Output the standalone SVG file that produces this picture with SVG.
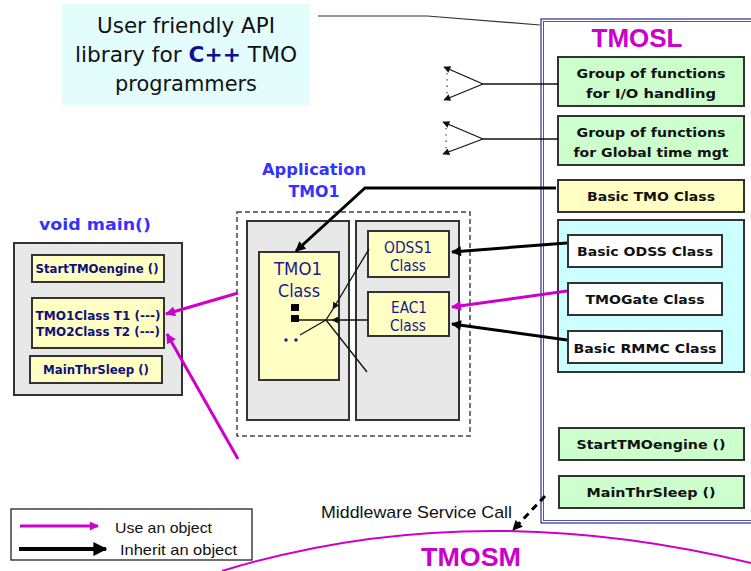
<svg xmlns="http://www.w3.org/2000/svg" width="751" height="571" viewBox="0 0 751 571">
<style>
.box{stroke:#333;stroke-width:2}
.yel{fill:#ffffc4}
.grn{fill:#ccffcc}
.gray{fill:#e8e8e8}
.wht{fill:#fff}
.cy{fill:#ccffff}
.bk{font-family:"DejaVu Sans","Liberation Sans",sans-serif;font-weight:bold;font-size:13px;fill:#111;text-anchor:middle}
.nv{font-family:"DejaVu Sans","Liberation Sans",sans-serif;font-weight:bold;font-size:11.5px;fill:#10107a;text-anchor:middle}
.nvr{font-family:"DejaVu Sans","Liberation Sans",sans-serif;font-size:17px;fill:#1a1a8c;text-anchor:middle}
.nvs{font-family:"DejaVu Sans","Liberation Sans",sans-serif;font-size:15px;fill:#1a1a8c;text-anchor:middle}
.ttl{font-family:"DejaVu Sans","Liberation Sans",sans-serif;font-weight:bold;font-size:16px;fill:#3333ff;text-anchor:middle}
.mg{font-family:"Liberation Sans","DejaVu Sans",sans-serif;font-weight:bold;font-size:26px;fill:#cc00cc;text-anchor:middle}
.nar{font-family:"Liberation Sans","DejaVu Sans",sans-serif;font-size:17px;fill:#111}
.leg{font-family:"Liberation Sans","DejaVu Sans",sans-serif;font-size:15px;fill:#111}
.thin{stroke:#111;stroke-width:1.3;fill:none}
.thick{stroke:#000;stroke-width:3;fill:none}
.use{stroke:#cc00cc;stroke-width:3;fill:none}
</style>
<defs>
<marker id="ahk" viewBox="0 0 10 10" refX="9" refY="5" markerWidth="12" markerHeight="10" markerUnits="userSpaceOnUse" orient="auto"><path d="M0,0 L10,5 L0,10 z" fill="#000"/></marker>
<marker id="ahm" viewBox="0 0 10 10" refX="9" refY="5" markerWidth="12" markerHeight="10" markerUnits="userSpaceOnUse" orient="auto"><path d="M0,0 L10,5 L0,10 z" fill="#cc00cc"/></marker>
<marker id="ahs" viewBox="0 0 10 10" refX="9" refY="5" markerWidth="8" markerHeight="7" markerUnits="userSpaceOnUse" orient="auto"><path d="M0,0 L10,5 L0,10 z" fill="#111"/></marker>
<marker id="ahL" viewBox="0 0 10 10" refX="9" refY="5" markerWidth="16" markerHeight="14" markerUnits="userSpaceOnUse" orient="auto"><path d="M0,0 L10,5 L0,10 z" fill="#000"/></marker>
<marker id="ahLm" viewBox="0 0 10 10" refX="9" refY="5" markerWidth="10" markerHeight="9" markerUnits="userSpaceOnUse" orient="auto"><path d="M0,0 L10,5 L0,10 z" fill="#cc00cc"/></marker>
</defs>
<rect width="751" height="571" fill="#fff"/>

<g id="api-note">
<rect x="62" y="4" width="248" height="101" fill="#e3fdfd"/>
<text x="186" y="33" font-family="DejaVu Sans,Liberation Sans,sans-serif" font-size="21" fill="#111" text-anchor="middle" textLength="178" lengthAdjust="spacingAndGlyphs">User friendly API</text>
<text x="186" y="62" font-family="DejaVu Sans,Liberation Sans,sans-serif" font-size="21" fill="#111" text-anchor="middle" textLength="222" lengthAdjust="spacingAndGlyphs">library for <tspan font-weight="bold" fill="#101090">C++</tspan> TMO</text>
<text x="186" y="91" font-family="DejaVu Sans,Liberation Sans,sans-serif" font-size="21" fill="#111" text-anchor="middle" textLength="142" lengthAdjust="spacingAndGlyphs">programmers</text>
</g>

<g id="tmosl">
<rect x="541" y="19" width="220" height="504" fill="none" stroke="#2a2a99" stroke-width="1.2"/>
<rect x="543.5" y="21.5" width="220" height="499" fill="none" stroke="#5050c0" stroke-width="1"/>
<text class="mg" x="637" y="47">TMOSL</text>
</g>

<g id="io-group">
<rect class="box grn" x="558" y="57" width="186" height="49"/>
<text class="bk" x="651" y="78" textLength="149" lengthAdjust="spacingAndGlyphs">Group of functions</text>
<text class="bk" x="651" y="98" textLength="130" lengthAdjust="spacingAndGlyphs">for I/O handling</text>
</g>
<g id="time-group">
<rect class="box grn" x="558" y="116" width="186" height="49"/>
<text class="bk" x="651" y="137" textLength="149" lengthAdjust="spacingAndGlyphs">Group of functions</text>
<text class="bk" x="651" y="157" textLength="155" lengthAdjust="spacingAndGlyphs">for Global time mgt</text>
</g>
<g id="basic-tmo">
<rect class="box yel" x="558" y="180" width="186" height="32"/>
<text class="bk" x="651" y="201" textLength="128" lengthAdjust="spacingAndGlyphs">Basic TMO Class</text>
</g>
<g id="cyan-group">
<rect class="box cy" x="558" y="220" width="186" height="152"/>
</g>
<g id="basic-odss">
<rect class="box wht" x="568" y="235" width="154" height="32"/>
<text class="bk" x="645" y="256" textLength="136" lengthAdjust="spacingAndGlyphs">Basic ODSS Class</text>
</g>
<g id="tmogate">
<rect class="box wht" x="568" y="283" width="154" height="32"/>
<text class="bk" x="645" y="304" textLength="119" lengthAdjust="spacingAndGlyphs">TMOGate Class</text>
</g>
<g id="basic-rmmc">
<rect class="box wht" x="568" y="331" width="154" height="32"/>
<text class="bk" x="645" y="353" textLength="143" lengthAdjust="spacingAndGlyphs">Basic RMMC Class</text>
</g>
<g id="sl-start">
<rect class="box grn" x="559" y="428" width="185" height="32"/>
<text class="bk" x="651" y="449" textLength="149" lengthAdjust="spacingAndGlyphs">StartTMOengine ()</text>
</g>
<g id="sl-sleep">
<rect class="box grn" x="559" y="476" width="185" height="32"/>
<text class="bk" x="651" y="497" textLength="129" lengthAdjust="spacingAndGlyphs">MainThrSleep ()</text>
</g>

<g id="application">
<text class="ttl" x="314" y="175" textLength="104" lengthAdjust="spacingAndGlyphs">Application</text>
<text class="ttl" x="314" y="197" textLength="51" lengthAdjust="spacingAndGlyphs">TMO1</text>
<rect x="237" y="212" width="233" height="224" fill="none" stroke="#444" stroke-width="1.5" stroke-dasharray="5,3"/>
<rect class="box gray" x="247" y="221" width="102" height="199"/>
<rect class="box gray" x="356" y="221" width="103" height="199"/>
</g>
<g id="tmo1-class">
<rect class="box yel" x="259" y="252" width="80" height="128"/>
<text class="nvr" x="298" y="275" textLength="48" lengthAdjust="spacingAndGlyphs">TMO1</text>
<text class="nvr" x="299" y="297" textLength="42" lengthAdjust="spacingAndGlyphs">Class</text>
<rect x="291" y="304" width="8" height="7" fill="#000"/>
<rect x="291" y="315" width="8" height="7" fill="#000"/>
<circle cx="286" cy="340" r="1.7" fill="#1a1a8c"/>
<circle cx="296" cy="340" r="1.7" fill="#1a1a8c"/>
</g>
<g id="odss1-class">
<rect class="box yel" x="368" y="231" width="81" height="46"/>
<text class="nvs" x="408" y="253" textLength="48" lengthAdjust="spacingAndGlyphs">ODSS1</text>
<text class="nvs" x="408" y="271" textLength="36" lengthAdjust="spacingAndGlyphs">Class</text>
</g>
<g id="eac1-class">
<rect class="box yel" x="368" y="292" width="81" height="44"/>
<text class="nvs" x="409" y="313" textLength="36" lengthAdjust="spacingAndGlyphs">EAC1</text>
<text class="nvs" x="408" y="331" textLength="36" lengthAdjust="spacingAndGlyphs">Class</text>
</g>

<g id="main">
<text class="ttl" x="95" y="230" textLength="112" lengthAdjust="spacingAndGlyphs">void  main()</text>
<rect class="box gray" x="14" y="243" width="168" height="152"/>
</g>
<g id="main-start">
<rect class="box yel" x="32" y="255" width="132" height="27"/>
<text class="nv" x="97" y="273" textLength="123" lengthAdjust="spacingAndGlyphs">StartTMOengine ()</text>
</g>
<g id="main-objects">
<rect class="box yel" x="32" y="298" width="132" height="50"/>
<text class="nv" x="98" y="320" textLength="125" lengthAdjust="spacingAndGlyphs">TMO1Class T1 (---)</text>
<text class="nv" x="98" y="336" textLength="124" lengthAdjust="spacingAndGlyphs">TMO2Class T2 (---)</text>
</g>
<g id="main-sleep">
<rect class="box yel" x="30" y="356" width="132" height="27"/>
<text class="nv" x="96" y="374" textLength="106" lengthAdjust="spacingAndGlyphs">MainThrSleep ()</text>
</g>

<g id="tmosm">
<path d="M222,571 Q470,495 751,563" fill="none" stroke="#cc00cc" stroke-width="2"/>
<text class="mg" x="471" y="566" textLength="100" lengthAdjust="spacingAndGlyphs">TMOSM</text>
</g>
<g id="middleware-label">
<text class="nar" x="321" y="518" textLength="191" lengthAdjust="spacingAndGlyphs">Middleware Service Call</text>
</g>

<g id="legend">
<rect x="11" y="509" width="241" height="51" fill="#fff" stroke="#222" stroke-width="1.3"/>
<line x1="20" y1="526" x2="98" y2="526" stroke="#cc00cc" stroke-width="3" marker-end="url(#ahLm)"/>
<line x1="19" y1="549" x2="106" y2="549" stroke="#000" stroke-width="4" marker-end="url(#ahL)"/>
<text class="leg" x="115" y="533" textLength="97" lengthAdjust="spacingAndGlyphs">Use an object</text>
<text class="leg" x="120" y="555" textLength="117" lengthAdjust="spacingAndGlyphs">Inherit an object</text>
</g>

<g id="connectors">
<polyline points="318,16 427,16 540,25" fill="none" stroke="#333" stroke-width="1.2"/>
<line x1="558" y1="84" x2="483" y2="84" class="thin"/>
<line x1="483" y1="84" x2="444" y2="67" class="thin" marker-end="url(#ahs)"/>
<line x1="483" y1="84" x2="444" y2="100" class="thin" marker-end="url(#ahs)"/>
<line x1="447" y1="73" x2="447" y2="95" stroke="#444" stroke-width="1.3" stroke-dasharray="1.3,5"/>
<line x1="558" y1="139" x2="483" y2="139" class="thin"/>
<line x1="483" y1="139" x2="443" y2="122" class="thin" marker-end="url(#ahs)"/>
<line x1="483" y1="139" x2="443" y2="154" class="thin" marker-end="url(#ahs)"/>
<line x1="446" y1="128" x2="446" y2="150" stroke="#444" stroke-width="1.3" stroke-dasharray="1.3,5"/>
<polyline points="556,188 365,188 296,251" class="thick" marker-end="url(#ahk)"/>
<line x1="567" y1="243" x2="452" y2="252" class="thick" marker-end="url(#ahk)"/>
<line x1="567" y1="291" x2="452" y2="307" class="use" marker-end="url(#ahm)"/>
<line x1="567" y1="340" x2="452" y2="324" class="thick" marker-end="url(#ahk)"/>
<line x1="369" y1="249" x2="333" y2="309" class="thin" marker-end="url(#ahs)"/>
<line x1="333" y1="309" x2="326" y2="320" class="thin"/>
<line x1="368" y1="320" x2="332" y2="320" class="thin" marker-end="url(#ahs)"/>
<line x1="332" y1="320" x2="299" y2="320" class="thin"/>
<line x1="326" y1="320" x2="300" y2="335" class="thin"/>
<line x1="326" y1="320" x2="367" y2="372" class="thin"/>
<line x1="238" y1="293" x2="166" y2="314" class="use" marker-end="url(#ahm)"/>
<line x1="238" y1="459" x2="167" y2="334" class="use" marker-end="url(#ahm)"/>
<line x1="545" y1="496" x2="513" y2="530" stroke="#000" stroke-width="3" stroke-dasharray="7,5" marker-end="url(#ahk)"/>
</g>
</svg>
